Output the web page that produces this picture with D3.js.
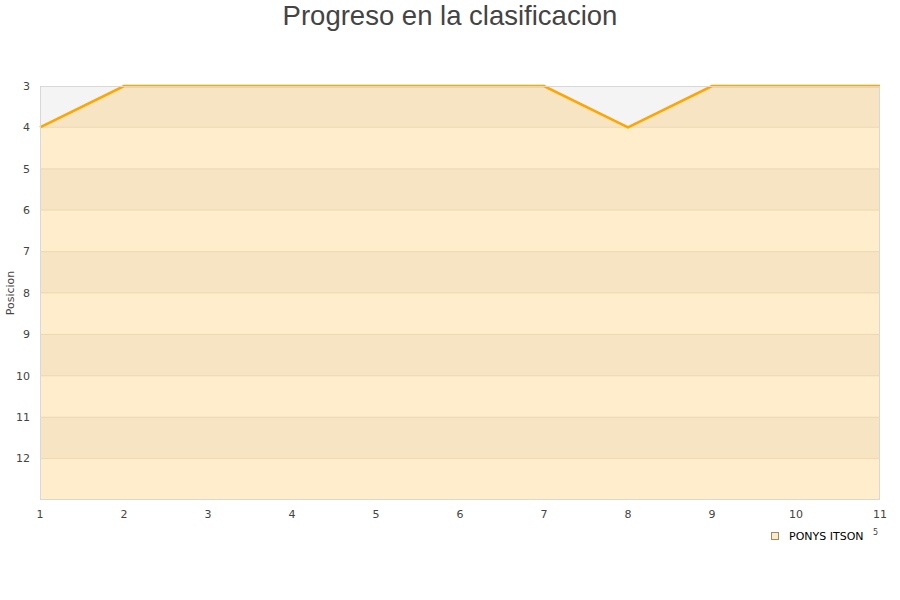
<!DOCTYPE html>
<html><head><meta charset="utf-8">
<script src="https://cdn.jsdelivr.net/npm/d3@7"></script>
<style>body{margin:0;background:#fff;}svg{display:block;}</style>
</head><body>
<svg id="c" width="900" height="600"></svg>
<script>
const rounds = [1,2,3,4,5,6,7,8,9,10,11];
const positions = [4,3,3,3,3,3,3,4,3,3,3];
const yTicks = [3,4,5,6,7,8,9,10,11,12];
const seriesName = "PONYS ITSON";
const title = "Progreso en la clasificacion";
const yLabel = "Posicion";

const svg = d3.select("#c");
const L = 40, R = 880, T = 86, B = 500;
const x = d3.scaleLinear().domain([1,11]).range([L,R]);
const y = d3.scaleLinear().domain([3,13]).range([T,B]);

// bands
const bands = d3.range(3,13);
svg.selectAll("rect.band").data(bands).enter().append("rect")
  .attr("x", L).attr("width", R-L)
  .attr("y", d=>y(d)).attr("height", d=>y(d+1)-y(d))
  .attr("fill", d=> (d%2===1) ? "#f4f4f4" : "#ffffff");

// area
const area = d3.area().x((d,i)=>x(rounds[i])).y0(y(13)).y1(d=>y(d));
svg.append("path").datum(positions).attr("d", area)
  .attr("fill", "rgba(255,165,0,0.2)");

// grid lines
svg.selectAll("line.grid").data(d3.range(4,13)).enter().append("line")
  .attr("x1", L).attr("x2", R).attr("y1", d=>y(d)).attr("y2", d=>y(d))
  .attr("stroke", "rgba(200,170,120,0.25)").attr("stroke-width",1);

// line
const line = d3.line().x((d,i)=>x(rounds[i])).y(d=>y(d));
svg.append("path").datum(positions).attr("d", line)
  .attr("fill","none").attr("stroke","#ffa500").attr("stroke-width",2.6);

// border
svg.append("rect").attr("x", L+0.5).attr("y", T+0.5).attr("width", R-L-1).attr("height", B-T-1)
  .attr("fill","none").attr("stroke","#d8d8d8").attr("stroke-width",1);

// y axis labels
svg.selectAll("text.yt").data(yTicks).enter().append("text")
  .attr("x", 30).attr("y", d=>y(d)).attr("dy","0.35em")
  .attr("text-anchor","end").attr("font-family","DejaVu Sans").attr("font-size",11)
  .attr("fill","#444").text(d=>d);

// x axis labels
svg.selectAll("text.xt").data(rounds).enter().append("text")
  .attr("x", d=>x(d)).attr("y", 518)
  .attr("text-anchor","middle").attr("font-family","DejaVu Sans").attr("font-size",11)
  .attr("fill","#444").text(d=>d);

// y label
svg.append("text").attr("transform","translate(14,293) rotate(-90)")
  .attr("text-anchor","middle").attr("font-family","DejaVu Sans").attr("font-size",11)
  .attr("fill","#444").text(yLabel);

// title
svg.append("text").attr("x",450).attr("y",25).attr("text-anchor","middle")
  .attr("font-family","Liberation Sans, Arial, sans-serif").attr("font-size",27.5)
  .attr("fill","#444").text(title);

// legend
svg.append("rect").attr("x",771.5).attr("y",532.5).attr("width",7).attr("height",7)
  .attr("fill","#fde9c8").attr("stroke","#a08860").attr("stroke-width",1);
svg.append("text").attr("x",789).attr("y",540).attr("font-family","DejaVu Sans").attr("font-size",11)
  .attr("fill","#000").text(seriesName);
svg.append("text").attr("x",873).attr("y",535).attr("font-family","DejaVu Sans").attr("font-size",8)
  .attr("fill","#444").text("5");
</script>
</body></html>
